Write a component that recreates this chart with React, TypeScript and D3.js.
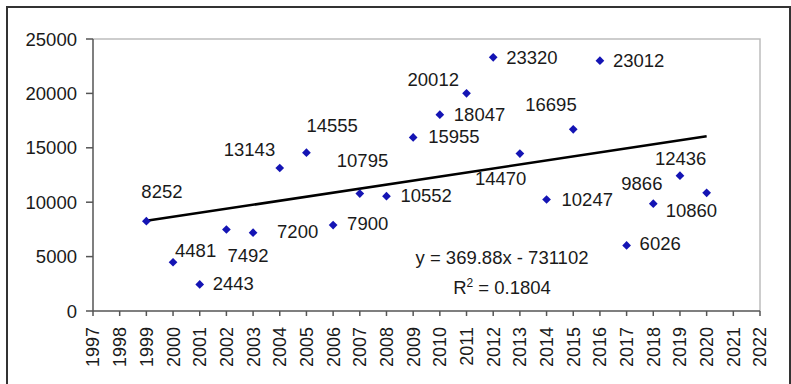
import React from "react";
import * as d3 from "d3";

const years = [1999, 2000, 2001, 2002, 2003, 2004, 2005, 2006, 2007, 2008, 2009, 2010, 2011, 2012, 2013, 2014, 2015, 2016, 2017, 2018, 2019, 2020];
const values = [8252, 4481, 2443, 7492, 7200, 13143, 14555, 7900, 10795, 10552, 15955, 18047, 20012, 23320, 14470, 10247, 16695, 23012, 6026, 9866, 12436, 10860];
const xTicks = d3.range(1997, 2023);
const yTicks = [0, 5000, 10000, 15000, 20000, 25000];
const trendSlope = 369.88;
const trendIntercept = -731102;
const equationText = "y = 369.88x - 731102";
const r2Text = "0.1804";

// label offsets (layout) relative to each marker: [dx, dy] for text start/baseline
const labelOffsets: [number, number][] = [
  [-5, -23], [2, -5], [13, 6], [1, 33], [24, 5], [-56, -12], [0, -21], [14, 5], [-23, -27], [14, 6],
  [15, 6], [14, 6], [-59, -7], [13, 7], [-45, 31], [15, 6], [-48, -18], [13, 6], [13, 5], [-32, -14],
  [-25, -11], [-41, 24],
];

const W = 791;
const H = 384;
const left = 93;
const right = 760;
const top = 39;
const bottom = 311;
const font = "Liberation Sans, Arial, sans-serif";
const textColor = "#1a1a1a";
const markerColor = "#1414b4";

export default function App() {
  const x = d3.scaleLinear().domain([1997, 2022]).range([left, right]);
  const y = d3.scaleLinear().domain([0, 25000]).range([bottom, top]);
  const trendYears = [d3.min(years)!, d3.max(years)!];
  const line = d3
    .line<number>()
    .x((d) => x(d))
    .y((d) => y(trendSlope * d + trendIntercept));
  const diamond = d3.symbol().type(d3.symbolSquare).size(38)();

  return (
    <svg width={W} height={H} style={{ position: "absolute", left: 0, top: 0 }} fontFamily={font}>
      <rect x={0} y={0} width={W} height={H} fill="#fff" />
      <rect x={7} y={7} width={783} height={390} fill="none" stroke="#333" strokeWidth={2} />
      {/* plot area top/right border */}
      <path d={`M${left},${top}H${right}V${bottom}`} fill="none" stroke="#bdbdbd" strokeWidth={1.5} />
      {/* axes */}
      <line x1={left} y1={top} x2={left} y2={bottom} stroke="#555" strokeWidth={1.5} />
      <line x1={left} y1={bottom} x2={right} y2={bottom} stroke="#555" strokeWidth={1.5} />
      {yTicks.map((t) => (
        <g key={"y" + t}>
          <line x1={left - 7} x2={left} y1={y(t)} y2={y(t)} stroke="#555" strokeWidth={1.5} />
          <text x={77} y={y(t)} dy="0.36em" textAnchor="end" fontSize={18.5} fill={textColor}>
            {t}
          </text>
        </g>
      ))}
      {xTicks.map((t) => (
        <g key={"x" + t}>
          <line x1={x(t)} x2={x(t)} y1={bottom} y2={bottom + 5} stroke="#555" strokeWidth={1.5} />
          <text
            transform={`translate(${x(t)},${bottom + 16}) rotate(-90)`}
            dy="0.36em"
            textAnchor="end"
            fontSize={18}
            fill={textColor}
          >
            {t}
          </text>
        </g>
      ))}
      <path d={line(trendYears) || ""} fill="none" stroke="#000" strokeWidth={2.6} />
      {years.map((yr, i) => (
        <g key={"p" + yr}>
          <path d={diamond!} transform={`translate(${x(yr)},${y(values[i])}) rotate(45)`} fill={markerColor} />
          <text
            x={x(yr) + labelOffsets[i][0]}
            y={y(values[i]) + labelOffsets[i][1]}
            fontSize={18.5}
            fill={textColor}
          >
            {values[i]}
          </text>
        </g>
      ))}
      <text x={502} y={264} textAnchor="middle" fontSize={18.5} fill={textColor}>
        {equationText}
      </text>
      <text x={502} y={294} textAnchor="middle" fontSize={18.5} fill={textColor}>
        R<tspan dy={-7} fontSize={12}>2</tspan>
        <tspan dy={7}> = {r2Text}</tspan>
      </text>
    </svg>
  );
}
